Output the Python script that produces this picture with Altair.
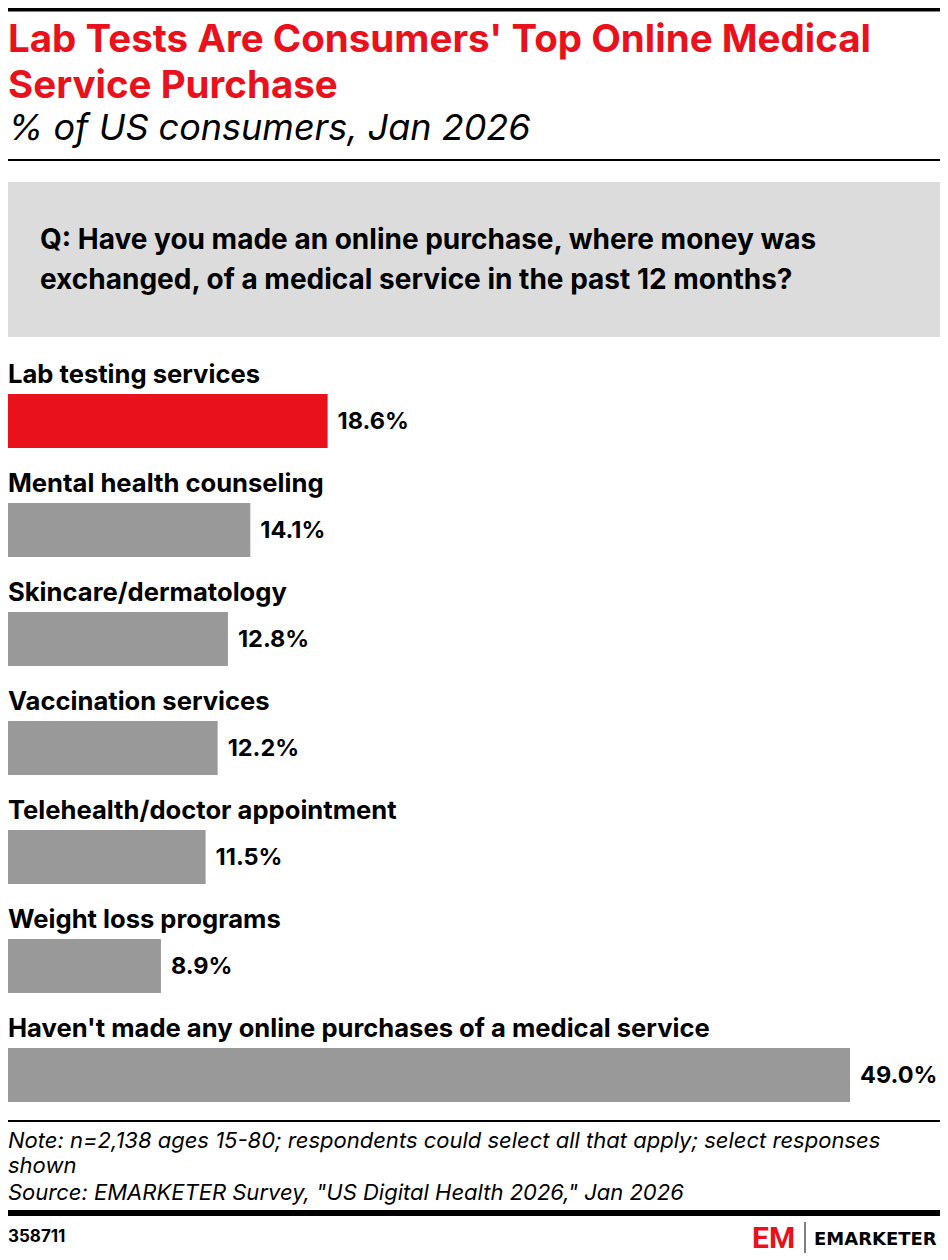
import altair as alt
import pandas as pd

# ---- data ----
categories = [
    "Lab testing services",
    "Mental health counseling",
    "Skincare/dermatology",
    "Vaccination services",
    "Telehealth/doctor appointment",
    "Weight loss programs",
    "Haven't made any online purchases of a medical service",
]
values = [18.6, 14.1, 12.8, 12.2, 11.5, 8.9, 49.0]
highlight = [True, False, False, False, False, False, False]

title_lines = ["Lab Tests Are Consumers' Top Online Medical", "Service Purchase"]
subtitle = "% of US consumers, Jan 2026"
question_lines = [
    "Q: Have you made an online purchase, where money was",
    "exchanged, of a medical service in the past 12 months?",
]
note_lines = [
    "Note: n=2,138 ages 15-80; respondents could select all that apply; select responses",
    "shown",
    'Source: EMARKETER Survey, "US Digital Health 2026," Jan 2026',
]
chart_id = "358711"
brand = "EMARKETER"
logo = "EM"

# ---- styling ----
W, H = 932, 1250
FONT = "Inter"
RED = "#e8111c"
GRAY = "#999999"
BOX = "#dcdcdc"

df = pd.DataFrame({
    "cat": categories,
    "value": values,
    "hl": ["yes" if h else "no" for h in highlight],
    "label": [f"{v:.1f}%" for v in values],
})
one = pd.DataFrame({"a": [0]})


def text_layer(txt, x, y, size, color="black", weight="normal", style="normal",
               align="left", font=FONT):
    return alt.Chart(pd.DataFrame({"t": [txt]})).mark_text(
        align=align, baseline="alphabetic", fontSize=size, fontWeight=weight,
        fontStyle=style, color=color, font=font,
    ).encode(x=alt.value(x), y=alt.value(y), text="t:N")


def rule_layer(y, width, x0=0, x1=W, color="black"):
    return alt.Chart(one).mark_rule(color=color, strokeWidth=width).encode(
        x=alt.value(x0), x2=alt.value(x1), y=alt.value(y)
    )


xscale = alt.Scale(domain=[0, 49], range=[0, 842])
yscale = alt.Scale(domain=categories, range=[386, 1094], paddingInner=0.505, paddingOuter=0)

bars = alt.Chart(df).mark_bar().encode(
    x=alt.X("value:Q", scale=xscale, axis=None),
    y=alt.Y("cat:N", scale=yscale, axis=None, sort=categories),
    color=alt.Color("hl:N", scale=alt.Scale(domain=["yes", "no"], range=[RED, GRAY]), legend=None),
)
vals = alt.Chart(df).mark_text(
    align="left", baseline="middle", dx=10, dy=1, fontSize=23.5, fontWeight="bold", font=FONT, color="black"
).encode(
    x=alt.X("value:Q", scale=xscale, axis=None),
    y=alt.Y("cat:N", scale=yscale, axis=None, sort=categories),
    text="label:N",
)
cats = alt.Chart(df).mark_text(
    align="left", baseline="alphabetic", dy=-38, fontSize=25.6, fontWeight="bold", font=FONT, color="black"
).encode(
    x=alt.value(0),
    y=alt.Y("cat:N", scale=yscale, axis=None, sort=categories),
    text="cat:N",
)

box = alt.Chart(one).mark_rect(color=BOX).encode(
    x=alt.value(0), x2=alt.value(W), y=alt.value(174), y2=alt.value(329)
)

layers = [
    rule_layer(1, 5),
    text_layer(title_lines[0], 0, 44, 38.5, RED, "bold"),
    text_layer(title_lines[1], 0, 90, 38.5, RED, "bold"),
    text_layer(subtitle, 0, 132, 36, "black", "normal", "italic"),
    rule_layer(152, 2),
    box,
    text_layer(question_lines[0], 32, 241, 28, "black", "bold"),
    text_layer(question_lines[1], 32, 281, 28, "black", "bold"),
    bars, vals, cats,
    rule_layer(1113, 2),
    text_layer(note_lines[0], 0, 1140, 22, "black", "normal", "italic"),
    text_layer(note_lines[1], 0, 1165, 22, "black", "normal", "italic"),
    text_layer(note_lines[2], 0, 1192, 22, "black", "normal", "italic"),
    rule_layer(1205, 6),
    text_layer(chart_id, 0, 1234, 17, "black", "bold"),
    text_layer(logo, 744, 1240, 30, RED, "bold", font="Roboto"),
    alt.Chart(one).mark_rule(color="black", strokeWidth=1).encode(
        x=alt.value(797), y=alt.value(1214), y2=alt.value(1245)
    ),
    text_layer(brand, 806, 1237, 18, "black", "bold", font="DejaVu Sans"),
]

chart = alt.layer(*layers).properties(
    width=W, height=H, padding=0, autosize=alt.AutoSizeParams(type="none")
).configure_view(stroke=None)

chart.save("out.html", embed_options={"renderer": "svg", "actions": False})
